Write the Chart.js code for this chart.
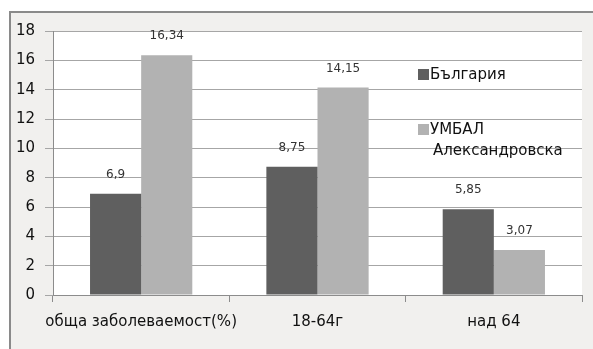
<!DOCTYPE html>
<html>
<head>
<meta charset="utf-8">
<script src="https://cdn.jsdelivr.net/npm/chart.js@4/dist/chart.umd.min.js"></script>
<style>
  html, body { margin: 0; padding: 0; background: #ffffff; }
  #wrap { width: 593px; height: 349px; position: relative; }
</style>
</head>
<body>
<div id="wrap"><canvas id="c" width="593" height="349"></canvas></div>
<script>
// Categories and values
const categories = ['обща заболеваемост(%)', '18-64г', 'над 64'];
const bulgaria = [6.9, 8.75, 5.85];
const umbal = [16.34, 14.15, 3.07];
const seriesNames = ['България', ['УМБАЛ', 'Александровска']];
const yTicks = [0, 2, 4, 6, 8, 10, 12, 14, 16, 18];

const FONT = '"DejaVu Sans", sans-serif';
const DARK = '#5f5f5f';
const LIGHT = '#b2b2b2';

// Grey panel with a frame behind the chart, white plot area
const panelPlugin = {
  id: 'panel',
  beforeDraw(chart) {
    const ctx = chart.ctx;
    const a = chart.chartArea;
    ctx.save();
    ctx.fillStyle = '#ffffff';
    ctx.fillRect(0, 0, chart.width, chart.height);
    ctx.fillStyle = '#f1f0ee';
    ctx.fillRect(10, 12, chart.width - 10, chart.height - 12);
    ctx.strokeStyle = '#8a8a8a';
    ctx.lineWidth = 2;
    ctx.beginPath();
    ctx.moveTo(10, chart.height);
    ctx.lineTo(10, 12);
    ctx.lineTo(chart.width, 12);
    ctx.stroke();
    ctx.fillStyle = '#ffffff';
    ctx.fillRect(a.left, a.top, a.right - a.left, a.bottom - a.top);
    ctx.restore();
  }
};

// Value labels above each bar, decimal comma
const valueLabels = {
  id: 'valueLabels',
  afterDatasetsDraw(chart) {
    const ctx = chart.ctx;
    ctx.save();
    ctx.font = '12px ' + FONT;
    ctx.fillStyle = '#333333';
    ctx.textAlign = 'center';
    ctx.textBaseline = 'middle';
    chart.data.datasets.forEach((ds, i) => {
      chart.getDatasetMeta(i).data.forEach((bar, j) => {
        const txt = String(ds.data[j]).replace('.', ',');
        ctx.fillText(txt, bar.x, bar.y - 19);
      });
    });
    ctx.restore();
  }
};

// Legend placed over the right side of the plot
const sideLegend = {
  id: 'sideLegend',
  afterDraw(chart) {
    const ctx = chart.ctx;
    const rows = [
      { lines: [seriesNames[0]], y: 75, color: DARK },
      { lines: seriesNames[1], y: 130, color: LIGHT }
    ];
    ctx.save();
    ctx.textBaseline = 'middle';
    ctx.textAlign = 'left';
    ctx.font = '15px ' + FONT;
    rows.forEach(r => {
      ctx.fillStyle = r.color;
      ctx.fillRect(418, r.y - 6, 11, 11);
      ctx.fillStyle = '#111111';
      r.lines.forEach((t, k) => {
        ctx.fillText(t, k === 0 ? 430 : 433, r.y + k * 21);
      });
    });
    ctx.restore();
  }
};

new Chart(document.getElementById('c'), {
  type: 'bar',
  data: {
    labels: categories,
    datasets: [
      { label: 'България', data: bulgaria, backgroundColor: DARK },
      { label: 'УМБАЛ Александровска', data: umbal, backgroundColor: LIGHT }
    ]
  },
  options: {
    responsive: false,
    animation: false,
    devicePixelRatio: 1,
    layout: { padding: { left: 0, top: 31, right: 11, bottom: 0 } },
    datasets: { bar: { categoryPercentage: 0.58, barPercentage: 1.0 } },
    plugins: { legend: { display: false }, tooltip: { enabled: false } },
    scales: {
      x: {
        grid: { offset: true, drawOnChartArea: false, drawTicks: true, tickLength: 7, color: '#8c8c8c' },
        border: { display: true, color: '#8c8c8c', width: 1 },
        ticks: { color: '#111111', font: { family: FONT, size: 15 }, padding: 11, maxRotation: 0, autoSkip: false },
        afterFit(s) { s.height = 54; }
      },
      y: {
        min: 0, max: 18,
        afterBuildTicks(s) { s.ticks = yTicks.map(v => ({ value: v })); },
        grid: { color: '#a6a6a6', lineWidth: 1, tickLength: 8 },
        border: { display: true, color: '#8c8c8c', width: 1 },
        ticks: { color: '#111111', font: { family: FONT, size: 15 }, padding: 10 },
        afterFit(s) { s.width = 53; }
      }
    }
  },
  plugins: [panelPlugin, valueLabels, sideLegend]
});
</script>
</body>
</html>
